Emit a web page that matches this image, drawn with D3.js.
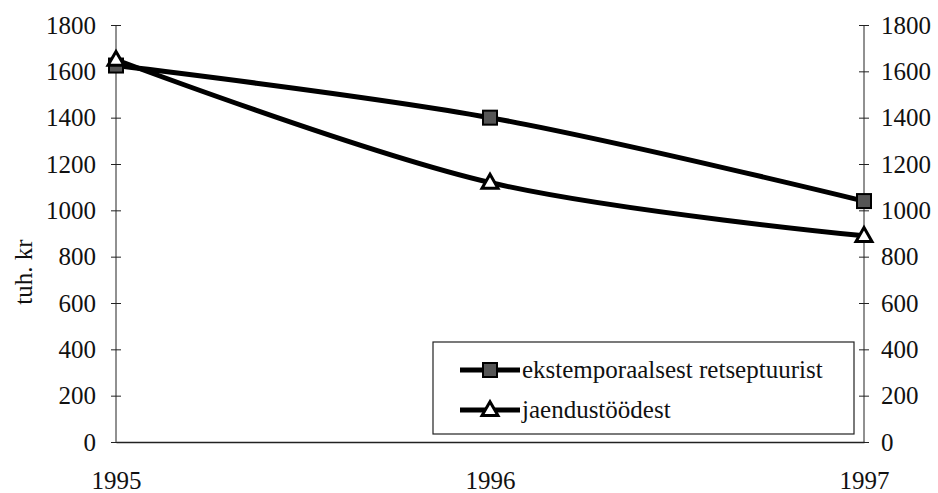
<!DOCTYPE html>
<html>
<head>
<meta charset="utf-8">
<script src="https://cdn.jsdelivr.net/npm/d3@7"></script>
<style>
  body { margin: 0; background: #fff; }
  svg text { font-family: 'Liberation Serif', 'DejaVu Serif', serif !important; fill: #111; }
</style>
</head>
<body>
<div id="chart"></div>
<script>
// Data
const years = ["1995", "1996", "1997"];
const ekstemporaalsest = [1625, 1400, 1040];
const jaendustoodest = [1650, 1120, 890];
const yTicks = [0, 200, 400, 600, 800, 1000, 1200, 1400, 1600, 1800];
const seriesNames = ["ekstemporaalsest retseptuurist", "jaendustöödest"];

const width = 938, height = 493;
const margin = {top: 25, bottom: 51, left: 116, right: 74};
const fontSize = "25px";
const serif = "'Liberation Serif', 'DejaVu Serif', serif";

const svg = d3.select("#chart")
    .append("svg")
    .attr("width", width)
    .attr("height", height);

const x = d3.scalePoint()
    .domain(years)
    .range([margin.left, width - margin.right]);

const y = d3.scaleLinear()
    .domain([0, 1800])
    .range([height - margin.bottom, margin.top]);

// left axis
const left = svg.append("g")
    .attr("transform", `translate(${margin.left},0)`)
    .call(d3.axisLeft(y).tickValues(yTicks).tickFormat(d3.format("d")).tickSize(5).tickPadding(15));
left.selectAll(".tick line").attr("x2", 5).attr("x1", -5);

// right axis
const right = svg.append("g")
    .attr("transform", `translate(${width - margin.right},0)`)
    .call(d3.axisRight(y).tickValues(yTicks).tickFormat(d3.format("d")).tickSize(5).tickPadding(12));
right.selectAll(".tick line").attr("x1", -5).attr("x2", 5);

[left, right].forEach(g => {
    g.attr("font-family", serif).attr("font-size", fontSize);
    g.select(".domain").attr("d", `M0,${y(1800)}V${y(0)}`).attr("stroke", "#222");
    g.selectAll(".tick line").attr("stroke", "#222");
    g.selectAll(".tick text").attr("fill", "#111");
});

// x axis
const bottom = svg.append("g")
    .attr("transform", `translate(0,${y(0)})`)
    .call(d3.axisBottom(x).tickSize(0).tickPadding(29));
bottom.attr("font-family", serif).attr("font-size", fontSize);
bottom.select(".domain").attr("stroke", "#222").attr("stroke-width", 1.5);
bottom.selectAll(".tick text").attr("fill", "#111");

// y label
svg.append("text")
    .attr("transform", `translate(32,272) rotate(-90)`)
    .attr("font-family", serif)
    .style("text-anchor", "middle")
    .style("font-size", fontSize)
    .text("tuh. kr");

const line = d3.line()
    .x((d, i) => x(years[i]))
    .y(d => y(d))
    .curve(d3.curveCatmullRom.alpha(0.5));

const series = [
    {name: seriesNames[0], values: ekstemporaalsest, marker: "square"},
    {name: seriesNames[1], values: jaendustoodest, marker: "triangle"}
];

function drawMarker(g, type, cx, cy) {
    if (type === "square") {
        g.append("rect")
            .attr("x", cx - 7).attr("y", cy - 7)
            .attr("width", 14).attr("height", 14)
            .attr("fill", "#555").attr("stroke", "#000").attr("stroke-width", 2);
    } else {
        g.append("path")
            .attr("d", d3.symbol().type(d3.symbolTriangle).size(110)())
            .attr("transform", `translate(${cx},${cy + 1})`)
            .attr("fill", "#fff").attr("stroke", "#000").attr("stroke-width", 3);
    }
}

series.forEach(s => {
    svg.append("path")
        .datum(s.values)
        .attr("fill", "none")
        .attr("stroke", "#000")
        .attr("stroke-width", 5)
        .attr("d", line);
});
series.forEach(s => {
    const g = svg.append("g");
    s.values.forEach((v, i) => drawMarker(g, s.marker, x(years[i]), y(v)));
});

// legend
const legend = svg.append("g");
legend.append("rect")
    .attr("x", 433).attr("y", 342)
    .attr("width", 421).attr("height", 92)
    .attr("fill", "#fff").attr("stroke", "#222").attr("stroke-width", 1.2);

series.forEach((s, i) => {
    const ly = 370 + i * 40;
    const g = legend.append("g");
    g.append("line")
        .attr("x1", 460).attr("x2", 520)
        .attr("y1", ly).attr("y2", ly)
        .attr("stroke", "#000").attr("stroke-width", 5);
    drawMarker(g, s.marker, 490, ly);
    g.append("text")
        .attr("x", 522).attr("y", ly + 8)
        .attr("font-family", serif)
        .style("font-size", fontSize)
        .text(s.name);
});
</script>
</body>
</html>
